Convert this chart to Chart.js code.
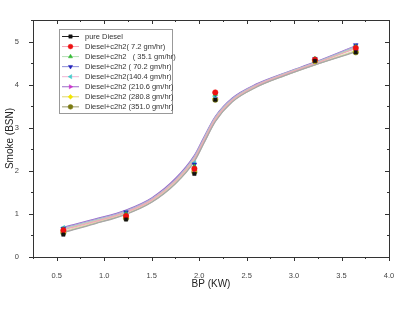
<!DOCTYPE html>
<html>
<head>
<meta charset="utf-8">
<script src="https://cdn.jsdelivr.net/npm/chart.js@4.4.1/dist/chart.umd.min.js"></script>
<style>
  html, body { margin: 0; padding: 0; background: #fff; }
  #wrap { width: 402px; height: 310px; }
</style>
</head>
<body>
<div id="wrap"><canvas id="smokeChart"></canvas></div>
<script>
// measured points
const bpValues = [0.57, 1.23, 1.95, 2.17, 3.22, 3.65];
const pureDiesel = [0.52, 0.87, 1.93, 3.65, 4.55, 4.75];
const c2h2_7 = [0.62, 0.95, 2.05, 3.82, 4.58, 4.85];
const c2h2_35 = [0.64, 1.00, 2.10, 3.78, 4.60, 4.88];
const c2h2_70 = [0.66, 1.04, 2.15, 3.78, 4.60, 4.92];
const c2h2_140 = [0.68, 1.02, 2.18, 3.72, 4.58, 4.90];
const c2h2_210 = [0.60, 0.97, 2.02, 3.70, 4.57, 4.80];
const c2h2_280 = [0.58, 0.92, 2.00, 3.68, 4.55, 4.77];
const c2h2_351 = [0.56, 0.90, 1.97, 3.65, 4.55, 4.75];

// fitted curves
const fitX = [0.57, 0.9, 1.23, 1.5, 1.75, 1.95, 2.05, 2.17, 2.35, 2.6, 2.9, 3.22, 3.65];
const fitPure = [0.57, 0.77, 0.99, 1.27, 1.70, 2.22, 2.64, 3.14, 3.60, 3.94, 4.21, 4.46, 4.76];
const fit7 = [0.63, 0.82, 1.04, 1.32, 1.76, 2.28, 2.70, 3.20, 3.64, 3.97, 4.24, 4.49, 4.84];
const fit35 = [0.65, 0.84, 1.05, 1.33, 1.77, 2.30, 2.72, 3.22, 3.65, 3.98, 4.25, 4.50, 4.86];
const fit70 = [0.67, 0.86, 1.07, 1.35, 1.79, 2.33, 2.75, 3.24, 3.67, 3.99, 4.26, 4.51, 4.89];
const fit140 = [0.66, 0.85, 1.06, 1.34, 1.78, 2.32, 2.74, 3.23, 3.66, 3.99, 4.25, 4.50, 4.88];
const fit210 = [0.69, 0.88, 1.09, 1.37, 1.82, 2.36, 2.78, 3.26, 3.69, 4.01, 4.27, 4.52, 4.90];
const fit280 = [0.60, 0.80, 1.02, 1.30, 1.73, 2.25, 2.67, 3.17, 3.62, 3.95, 4.22, 4.47, 4.79];
const fit351 = [0.58, 0.78, 1.00, 1.28, 1.71, 2.23, 2.65, 3.15, 3.61, 3.94, 4.21, 4.46, 4.77];

const xTicks = [0.5, 1.0, 1.5, 2.0, 2.5, 3.0, 3.5, 4.0];
const yTicks = [0, 1, 2, 3, 4, 5];

const seriesNames = [
    'pure Diesel',
    'Diesel+c2h2( 7.2 gm/hr)',
    'Diesel+c2h2   ( 35.1 gm/hr)',
    'Diesel+c2h2 ( 70.2 gm/hr)',
    'Diesel+c2h2(140.4 gm/hr)',
    'Diesel+c2h2 (210.6 gm/hr)',
    'Diesel+c2h2 (280.8 gm/hr)',
    'Diesel+c2h2 (351.0 gm/hr)'
];
const pointSets = [pureDiesel, c2h2_7, c2h2_35, c2h2_70, c2h2_140, c2h2_210, c2h2_280, c2h2_351];
const fitSets = [fitPure, fit7, fit35, fit70, fit140, fit210, fit280, fit351];
const markerColors = ['#111111', '#ee1111', '#33bb33', '#2222bb', '#44cccc', '#cc33cc', '#f2e600', '#7a7a10'];
const lineColors = ['#a8a8a8', '#f2a6b8', '#b6deb6', '#a9a9dd', '#f0b4d4', '#9a6cc8', '#dcdcaa', '#b4b49c'];
const legendLineColors = ['#222222', '#f2a6b8', '#b6deb6', '#8f8fd8', '#f0b4d4', '#9a6cc8', '#e0d870', '#9a9a70'];
const markerStyles = ['rect', 'circle', 'triangle', 'triangle', 'triangle', 'triangle', 'rectRot', 'circle'];
const markerRotations = [0, 0, 0, 180, -90, 90, 0, 0];

const datasets = [];
fitSets.forEach((fit, i) => {
    datasets.push({
        label: 'fit ' + i,
        data: fitX.map((x, j) => ({ x: x, y: fit[j] })),
        borderColor: lineColors[i],
        borderWidth: 1.3,
        pointRadius: 0,
        showLine: true,
        cubicInterpolationMode: 'monotone',
        fill: false,
        order: 2
    });
});
pointSets.forEach((vals, i) => {
    datasets.push({
        label: seriesNames[i],
        data: bpValues.map((x, j) => ({ x: x, y: vals[j] })),
        showLine: false,
        pointStyle: markerStyles[i],
        rotation: markerRotations[i],
        pointRadius: markerStyles[i] === 'rect' ? 2.4 : 2.7,
        backgroundColor: markerColors[i],
        borderColor: markerColors[i],
        borderWidth: 0.5,
        order: 1
    });
});

// frame, minor ticks and the boxed legend
const framePlugin = {
    id: 'framePlugin',
    afterDraw(chart) {
        const c = chart.ctx;
        const a = chart.chartArea;
        const xs = chart.scales.x, ys = chart.scales.y;
        c.save();
        c.strokeStyle = '#333';
        c.lineWidth = 1;
        c.strokeRect(a.left + 0.5, a.top + 0.5, a.right - a.left, a.bottom - a.top);
        c.beginPath();
        for (let v = 0.25; v <= 4.001; v += 0.25) {
            const px = Math.round(xs.getPixelForValue(v)) + 0.5;
            const major = Math.abs(v * 2 - Math.round(v * 2)) < 1e-6;
            const len = major ? 4 : 2;
            c.moveTo(px, a.bottom); c.lineTo(px, a.bottom + len);
            c.moveTo(px, a.top); c.lineTo(px, a.top + len);
        }
        for (let v = 0; v <= 5.501; v += 0.5) {
            const py = Math.round(ys.getPixelForValue(v)) + 0.5;
            const major = Math.abs(v - Math.round(v)) < 1e-6;
            const len = major ? 4 : 2;
            c.moveTo(a.left, py); c.lineTo(a.left - len, py);
            c.moveTo(a.right, py); c.lineTo(a.right - len, py);
        }
        c.stroke();

        // legend
        const bx = 59.5, by = 29.5, bw = 113, bh = 84;
        c.strokeStyle = '#999';
        c.strokeRect(bx, by, bw, bh);
        c.font = '7.5px "Liberation Sans", Arial, sans-serif';
        c.textBaseline = 'middle';
        seriesNames.forEach((name, i) => {
            const y = 36.5 + i * 10.05;
            c.strokeStyle = legendLineColors[i];
            c.lineWidth = 1;
            c.beginPath();
            c.moveTo(62, y); c.lineTo(79, y);
            c.stroke();
            c.fillStyle = markerColors[i];
            c.strokeStyle = markerColors[i];
            c.lineWidth = 0.5;
            Chart.helpers.drawPoint(c, {
                pointStyle: markerStyles[i],
                rotation: markerRotations[i],
                radius: 2.4,
                borderWidth: 0.5
            }, 70.5, y);
            c.fillStyle = '#333';
            c.fillText(name, 85, y);
        });
        c.restore();
    }
};

new Chart(document.getElementById('smokeChart').getContext('2d'), {
    type: 'scatter',
    data: { datasets: datasets },
    options: {
        responsive: true,
        maintainAspectRatio: false,
        animation: false,
        layout: { padding: { top: 20, right: 13, left: 0, bottom: 0 } },
        plugins: {
            legend: { display: false },
            tooltip: { enabled: false }
        },
        scales: {
            x: {
                type: 'linear',
                min: 0.25,
                max: 4,
                grid: { display: false },
                border: { display: false },
                afterBuildTicks: s => { s.ticks = xTicks.map(v => ({ value: v })); },
                afterFit: s => { s.height = 53; },
                ticks: {
                    padding: 6,
                    color: '#444',
                    font: { family: '"Liberation Sans", Arial, sans-serif', size: 7.5 },
                    callback: v => Number(v).toFixed(1)
                },
                title: {
                    display: true,
                    text: 'BP (KW)',
                    color: '#222',
                    font: { family: '"Liberation Sans", Arial, sans-serif', size: 10 },
                    padding: { top: 0, bottom: 20 }
                }
            },
            y: {
                min: 0,
                max: 5.5,
                grid: { display: false },
                border: { display: false },
                afterBuildTicks: s => { s.ticks = yTicks.map(v => ({ value: v })); },
                afterFit: s => { s.width = 33; },
                ticks: {
                    padding: 6,
                    color: '#444',
                    font: { family: '"Liberation Sans", Arial, sans-serif', size: 7.5 },
                    callback: v => String(v)
                },
                title: {
                    display: true,
                    text: 'Smoke (BSN)',
                    color: '#222',
                    font: { family: '"Liberation Sans", Arial, sans-serif', size: 10 },
                    padding: { top: 4, bottom: 0 }
                }
            }
        }
    },
    plugins: [framePlugin]
});
</script>
</body>
</html>
